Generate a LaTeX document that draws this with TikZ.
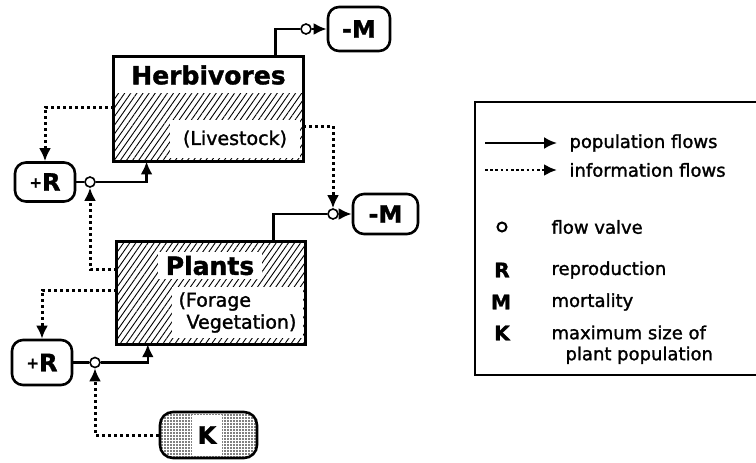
\documentclass[tikz,border=0pt]{standalone}
\usepackage{fontspec}
\setmainfont[FakeBold=1.5]{DejaVu Sans}
\usetikzlibrary{arrows.meta, patterns.meta, positioning}
\tikzstyle{every node}=[font=\fontsize{18}{21}\selectfont]
\tikzstyle{stock}=[rectangle, inner sep=0pt, pattern={Lines[angle=55,distance=5pt,line width=0.9pt]}]
\tikzstyle{border}=[line width=2.8pt]
\tikzstyle{window}=[rectangle, fill=white, inner sep=0pt]
\tikzstyle{title}=[font=\bfseries\fontsize{25}{25}\selectfont]
\tikzstyle{rate}=[draw, line width=2.6pt, rounded corners=11pt, fill=white, inner sep=0pt, font=\bfseries\fontsize{24}{24}\selectfont]
\tikzstyle{limit}=[draw, line width=2.6pt, rounded corners=13pt, inner sep=0pt, pattern={Dots[distance=3pt,radius=0.9pt]}]
\tikzstyle{valve}=[draw, circle, fill=white, line width=1.6pt, inner sep=0pt, minimum size=10pt]
\tikzstyle{flow}=[line width=2.6pt]
\tikzstyle{pop}=[line width=2.6pt, -{Latex[length=13pt,width=12pt]}]
\tikzstyle{info}=[line width=3pt, dash pattern=on 3pt off 3pt, -{Latex[length=13pt,width=12pt]}]
\newcommand{\smallplus}{\raisebox{3pt}{\fontsize{15}{15}\selectfont+}}

\begin{document}
\begin{tikzpicture}[x=1pt, y=-1pt]
    \useasboundingbox (0,0) rectangle (756,463);
    % herbivores
    \node[stock, minimum width=189pt, minimum height=104pt] (herb) at (208.5,109) {};
    \node[window, title, minimum width=189pt, minimum height=36pt] (herbT) at (208.5,75) {Herbivores};
    \node[window, font=\fontsize{19}{22}\selectfont, minimum width=130pt, minimum height=38pt] (herbS) at (235,139) {(Livestock)};
    \draw[border] (herb.north west) rectangle (herb.south east);
    % plants
    \node[stock, minimum width=188pt, minimum height=102pt] (plant) at (211,293) {};
    \node[window, title, minimum width=104pt, minimum height=27pt] (plantT) at (210,265.5) {Plants};
    \node[window, font=\fontsize{19}{22}\selectfont, minimum width=131pt, minimum height=51pt, align=left] (plantS) at (237.5,312.5) {(Forage\\\hspace*{8pt}Vegetation)};
    \draw[border] (plant.north west) rectangle (plant.south east);
    % rates
    \node[rate, minimum width=60pt, minimum height=39pt] (rtop) at (45,182) {\smallplus R};
    \node[rate, minimum width=62pt, minimum height=44pt] (mtop) at (359,29) {-M};
    \node[rate, minimum width=65pt, minimum height=40pt] (mbot) at (385.5,214) {-M};
    \node[rate, minimum width=60pt, minimum height=45pt] (rbot) at (42,362.5) {\smallplus R};
    \node[limit, minimum width=97pt, minimum height=46pt] (kcap) at (208.5,435) {};
    \node[window, font=\bfseries\fontsize{24}{24}\selectfont, minimum width=30pt, minimum height=41pt] (kT) at (207,435) {K};
    % valves
    \node[valve] (v1) at (90,182) {};
    \node[valve] (v2) at (306,29) {};
    \node[valve] (v4) at (333,214) {};
    \node[valve] (v3) at (95,362.5) {};
    % population flows
    \draw[flow] (rtop) -- (v1);
    \draw[pop] (v1) -| ([xshift=33pt]herb.south west);
    \draw[flow] ([xshift=-28pt]herb.north east) |- (v2);
    \draw[pop] (v2) -- (mtop);
    \draw[flow] ([xshift=-32pt]plant.north east) |- (v4);
    \draw[pop] (v4) -- (mbot);
    \draw[flow] (rbot) -- (v3);
    \draw[pop] (v3) -| ([xshift=31pt]plant.south west);
    % information flows
    \draw[info] ([yshift=2pt]herb.west) -| (rtop);
    \draw[info] ([yshift=-17pt]herb.east) -| (v4);
    \draw[info] ([yshift=24pt]plant.west) -| (v1);
    \draw[info] ([yshift=3pt]plant.west) -| (rbot);
    \draw[info] (kcap) -| (v3);
    % legend
    \node[draw, line width=1.6pt, minimum width=300pt, minimum height=273pt] (legend) at (625,238.5) {};
    \coordinate (popA) at (485,143);
    \coordinate (popB) at (557,143);
    \coordinate (infA) at (485,170);
    \coordinate (infB) at (557,170);
    \draw[pop, line width=2.2pt] (popA) -- (popB);
    \draw[info, line width=2.6pt, dash pattern=on 2.6pt off 2.6pt] (infA) -- (infB);
    \node[anchor=west] (popL) at (566,143) {population flows};
    \node[anchor=west] (infL) at (566,170) {information flows};
    \node[valve, minimum size=9pt, line width=2pt] (valveS) at (502,227) {};
    \node[anchor=west] (valveL) at (548,227) {flow valve};
    \node[font=\bfseries\fontsize{20}{20}\selectfont] (rS) at (502,270) {R};
    \node[anchor=west] (rL) at (548,270) {reproduction};
    \node[font=\bfseries\fontsize{20}{20}\selectfont] (mS) at (501,302) {M};
    \node[anchor=west] (mL) at (548,302) {mortality};
    \node[font=\bfseries\fontsize{20}{20}\selectfont] (kS) at (502,333) {K};
    \node[anchor=north west, align=left] (kL) at (548,322) {maximum size of\\\hspace*{14pt}plant population};
\end{tikzpicture}
\end{document}
